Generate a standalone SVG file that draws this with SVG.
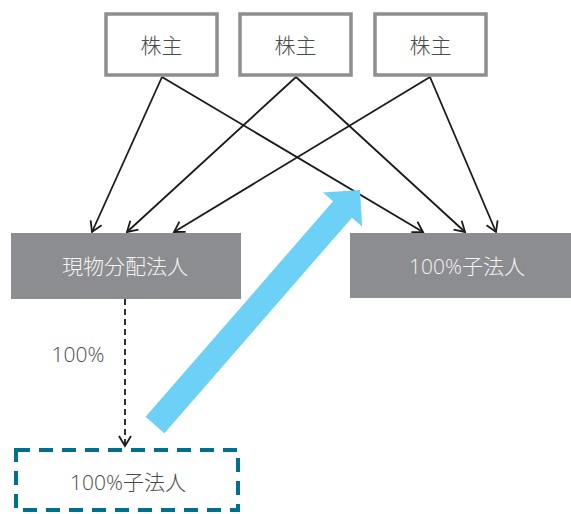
<svg xmlns="http://www.w3.org/2000/svg" width="571" height="514" viewBox="0 0 571 514">
<defs>
<style>
.sh{fill:#fff;stroke:#8e8e8e;stroke-width:3.5}
.corp{fill:#8c8d91}
.t{font-family:"Open Sans","Noto Sans CJK JP",sans-serif;font-size:21px;font-weight:300;text-anchor:middle;dominant-baseline:central}
.dk{fill:#4a4a4a}
.wt{fill:#f4f4f4}
.ln{stroke:#1a1a1a;stroke-width:1.8;fill:none;marker-end:url(#ah)}
</style>
<marker id="ah" markerUnits="userSpaceOnUse" markerWidth="16" markerHeight="16" refX="13" refY="7" orient="auto">
<path d="M3,1 L13,7 L3,13" fill="none" stroke="#1a1a1a" stroke-width="1.8"/>
</marker>
</defs>
<g id="connectors">
<line class="ln" x1="162" y1="77" x2="92" y2="232"/>
<line class="ln" x1="162" y1="77" x2="423" y2="232"/>
<line class="ln" x1="296" y1="77" x2="127" y2="232"/>
<line class="ln" x1="296" y1="77" x2="465" y2="232"/>
<line class="ln" x1="430" y1="77" x2="174" y2="232"/>
<line class="ln" x1="430" y1="77" x2="496" y2="232"/>
<line class="ln" x1="125" y1="299" x2="125" y2="446" stroke-dasharray="6 4"/>
<polygon points="145.6,416.8 164.4,433.2 351.9,217.7 362.1,226.6 360,190 322.9,192.4 333.1,201.3" fill="#6dd0f6"/>
<text class="t dk" x="78" y="354">100%</text>
</g>
<g id="shareholder1"><rect class="sh" x="106" y="14" width="111" height="61"/><text class="t dk" x="161.5" y="45">株主</text></g>
<g id="shareholder2"><rect class="sh" x="240" y="14" width="111" height="61"/><text class="t dk" x="295.5" y="45">株主</text></g>
<g id="shareholder3"><rect class="sh" x="375" y="14" width="111" height="61"/><text class="t dk" x="430.5" y="45">株主</text></g>
<g id="distributor"><rect class="corp" x="11" y="233" width="230" height="66"/><text class="t wt" x="125" y="266">現物分配法人</text></g>
<g id="subsidiary"><rect class="corp" x="350" y="233" width="221" height="65"/><text class="t wt" x="467" y="266">100%子法人</text></g>
<g id="subsidiary-dashed"><rect x="16" y="450" width="222" height="60" fill="none" stroke="#00708f" stroke-width="4" stroke-dasharray="14 9"/><text class="t dk" x="128" y="482">100%子法人</text></g>
</svg>
